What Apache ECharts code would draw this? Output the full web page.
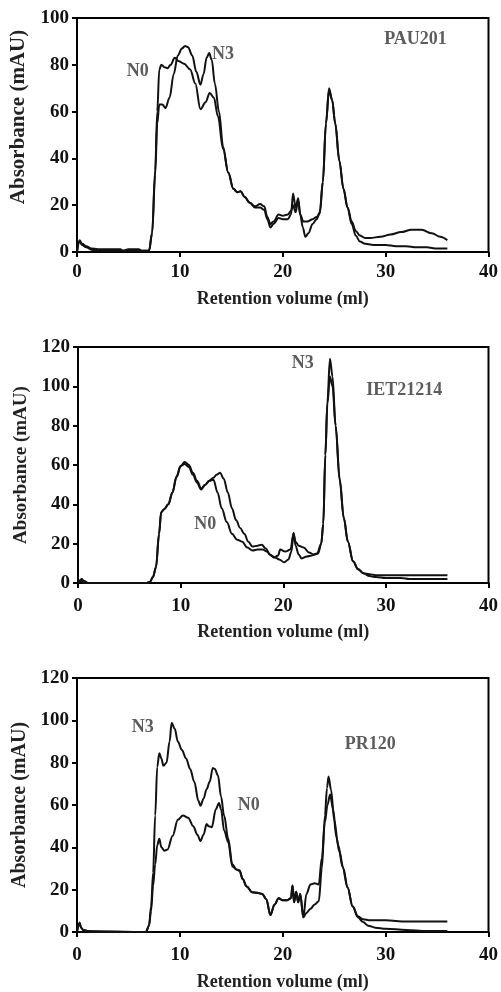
<!DOCTYPE html>
<html>
<head>
<meta charset="utf-8">
<script src="https://cdn.jsdelivr.net/npm/echarts@6/dist/echarts.min.js"></script>
<style>
html,body{margin:0;padding:0;background:#fff;}
#chart{width:501px;height:992px;}
</style>
</head>
<body>
<div id="chart"></div>
<script>
// ---------- Panel 1: PAU201 ----------
var pauN0X = [0,0.25,0.5,0.9,1.4,2.0,3.0,4.2,4.5,5.0,6.0,6.3,7.0,7.3,7.6,7.8,8.0,8.2,8.5,8.8,9.1,9.5,9.9,10.4,11.0,11.5,12.0,12.5,12.9,13.3,13.7,14.2,14.7,15.2,15.6,15.9,16.3,16.8,17.3,17.8,18.2,18.5,18.8,19.1,19.6,20.0,20.5,20.8,21.0,21.25,21.5,21.7,21.95,22.2,22.5,22.9,23.3,23.6,23.9,24.2,24.5,24.8,25.1,25.5,25.9,26.3,26.7,27.1,27.5,28.0,29,30,31,32,33,34,35,36];
var pauN0Y = [0,5,3.5,2.5,1.5,1.2,1.2,1.2,0.5,1.2,1.2,0.5,0.5,8,35,60,78,80,79,78.5,80,83,81.5,80.5,78,72,61,64,68,66,58,44,34,27,25.5,26,23.5,21,19,19,18,14,10.5,12,14.5,14,14,16,25,19,23,16,10.5,6.5,8,12,14,17,30,55,70,65,55,39,27,19,12,7,4.5,3.5,3,3,2.5,2.5,2,2,1.5,1.5];
var pauN3X = [0,0.25,0.5,0.9,1.4,2.0,4.0,5.0,6.0,7.0,7.3,7.6,7.8,8.0,8.3,8.6,9.0,9.4,9.8,10.2,10.5,10.8,11.2,11.6,12.0,12.3,12.6,12.85,13.1,13.4,13.8,14.2,14.7,15.2,15.6,15.9,16.3,16.8,17.3,17.8,18.2,18.5,18.8,19.1,19.6,20.0,20.5,20.8,21.0,21.25,21.5,21.7,22.0,22.4,22.9,23.3,23.6,23.9,24.2,24.5,24.8,25.1,25.5,25.9,26.3,26.7,27.1,27.5,28.0,28.5,29.5,30.5,31.5,32.5,33.5,34.5,35.3,36];
var pauN3Y = [0,4.5,3,2,1,0.5,0.5,0.5,0.5,0.5,8,33,55,63,63,61.5,66,76,84,87,88,87.5,84,77,71.5,76,83,85,82,72,60,45,34,27,25.5,26,23.5,21,19.5,20.5,19.5,15,12,13,16,15.5,16,17.5,20,17,22,16,13,13,14,15,16.5,30,55,69,65,55,39,27,19,13,9,7,6,6,6.5,7.5,8.5,9.5,9.5,8,6.5,5];

// ---------- Panel 2: IET21214 ----------
var ietN0X = [0,0.2,0.35,0.6,1.0,6.7,7.0,7.3,7.6,7.9,8.1,8.4,8.8,9.2,9.6,10.0,10.4,10.8,11.2,11.6,12.0,12.4,12.8,13.2,13.6,14.0,14.5,15.0,15.5,16.0,16.5,17.0,17.5,18.0,18.4,18.8,19.2,19.6,20.1,20.5,20.8,21.0,21.2,21.5,21.8,22.3,22.8,23.3,23.7,23.9,24.1,24.3,24.55,24.8,25.1,25.5,25.9,26.3,26.8,27.3,27.8,28.4,29.0,30,32,34,36];
var ietN0Y = [0,1.5,2,1,0,0,0.5,3,8,25,36,37.5,40,46,54,59.5,60.5,59,55,51,47.5,50,52,52.5,46,38,31,25,22,21,18,16.5,17,17,16,14,13,12,10.5,12,16,25.5,19,14.5,12.5,13.5,14,15,20,30,65,91,105,100,80,53,33,21,11,7,5,4.5,4,4,4,4,4];
var ietN3X = [0,0.3,0.6,6.7,7.0,7.3,7.6,7.9,8.1,8.4,8.8,9.2,9.6,10.0,10.4,10.8,11.2,11.6,12.0,12.4,12.8,13.2,13.5,13.85,14.2,14.6,15.0,15.4,15.8,16.2,16.6,17.0,17.5,17.9,18.3,18.7,19.1,19.5,19.7,20.2,20.7,21.0,21.2,21.5,22.0,22.5,23.0,23.4,23.7,23.9,24.1,24.3,24.55,24.8,25.1,25.5,25.9,26.3,26.8,27.3,27.8,28.4,29.0,30,31.5,32.3,33,34,36];
var ietN3Y = [0,1,0,0,0.5,3,8,25,36,37.5,40,46,54,59.5,61.5,60,56,52,48,50,52,53.5,55,56,53,46,38,32,28,25,21,18.5,19,19.5,17.5,14.5,13,14,17,16,17,25,21,19,18,15.5,14.5,15,20,30,65,92,114,105,80,52,33,21,11,7,5,3.5,3,2.5,2.5,2,2,2,2];

// ---------- Panel 3: PR120 ----------
var prN3X = [0,0.25,0.4,0.6,1.0,1.4,6.7,7.0,7.2,7.4,7.6,7.8,8.0,8.2,8.4,8.7,9.0,9.2,9.5,9.8,10.2,10.6,11.0,11.4,11.8,12.0,12.3,12.6,12.9,13.2,13.4,13.7,14.0,14.3,14.7,15.1,15.5,15.8,16.1,16.5,17.0,17.5,18.0,18.4,18.8,19.2,19.6,20.0,20.4,20.8,20.95,21.1,21.3,21.5,21.7,22.0,22.3,22.7,23.1,23.5,23.8,24.1,24.3,24.45,24.7,25.0,25.4,25.8,26.3,26.8,27.3,27.8,28.3,29,30,32,34,36];
var prN3Y = [0,4,2,1,0.5,0,0,3,12,28,55,78,84.5,82,78.5,80,90,98.8,96,90,86,82,77,71,62,59.6,63,67.5,71,77.5,77,74,64,55,44,32,29.5,29,25,21.5,18.8,18.5,18,15.5,8,13,16,15,15,16,22,14,19,14,18,7,9,11,13,14.5,30,55,68,73.5,67,53,41,31,21,12,7,4.7,3,2,1.5,1,0.5,0.5];
var prN0X = [0,0.25,0.4,0.6,1.0,6.7,7.0,7.2,7.4,7.6,7.8,8.0,8.2,8.5,8.8,9.3,9.8,10.3,10.8,11.3,11.7,12.0,12.3,12.6,12.8,13.1,13.5,13.8,14.0,14.3,14.7,15.1,15.5,15.8,16.1,16.5,17.0,17.5,18.0,18.4,18.8,19.2,19.6,20.0,20.4,20.8,20.95,21.1,21.3,21.5,21.7,22.0,22.3,22.7,23.1,23.5,23.8,24.1,24.35,24.6,24.9,25.2,25.5,25.9,26.3,26.8,27.3,27.8,28.5,30,32,34,36];
var prN0Y = [0,4.5,2,1,0.5,0,3,10,22,32,41,44,40,38.4,39,45.5,53,55,54,50,46,43,46,51,50,49.5,58,61,58,48,42.4,31,29.5,29,25,21.5,18.8,18.5,18,15.5,8,13,16,15,15,16,22,14,19,14,18,7,18,22.5,23,22.5,35,52,60,65,58,45,38,30,21,12,7.5,6,5.5,5.5,5,5,5];

// ---------- Axis ticks / texts ----------
var yMax = [100,120,120];
var xTitle = 'Retention volume (ml)';
var yTitle = 'Absorbance (mAU)';
var panelNames = ['PAU201','IET21214','PR120'];
var labelTexts = [['N0','N3','PAU201'],['N3','N0','IET21214'],['N3','N0','PR120']];
var labelX = [[5.9,14.2,32.9],[21.9,12.4,31.8],[6.4,16.7,28.5]];
var labelY = [[77,84.6,91],[111.7,30,98],[96.5,60,88.5]];

function pairs(xs, ys){ return xs.map(function(x,i){ return [x, ys[i]]; }); }

var FONT = "'Liberation Serif','Times New Roman',serif";
var grids = [
  {left:76, top:18, width:416, height:234},
  {left:78, top:347, width:411, height:236},
  {left:77, top:678, width:413, height:255}
];
var xLabelMargin = [11,14,14];
var xNameGap = [38,40,41];
var yNameGap = [48,45,44];
var yNameSize = [21,19,20];
var yNamePad = [[0,0,0,36],[0,0,0,0],[0,0,0,0]];

var option = {
  animation:false,
  backgroundColor:'#fff',
  grid: grids.map(function(g){ return Object.assign({show:true, borderColor:'#000', borderWidth:2, backgroundColor:'transparent'}, g); }),
  xAxis: grids.map(function(g,i){ return {
    type:'value', gridIndex:i, min:0, max:40, interval:10,
    name:xTitle, nameLocation:'middle', nameGap:xNameGap[i],
    nameTextStyle:{fontFamily:FONT, fontWeight:'bold', fontSize:18, color:'#222'},
    axisLine:{show:true, onZero:false, lineStyle:{color:'#000', width:2}},
    axisTick:{show:true, inside:false, length:5, lineStyle:{color:'#000', width:2}},
    axisLabel:{fontFamily:FONT, fontWeight:'bold', fontSize:19, color:'#111', margin:xLabelMargin[i]},
    splitLine:{show:false}
  }; }),
  yAxis: grids.map(function(g,i){ return {
    type:'value', gridIndex:i, min:0, max:yMax[i], interval:20,
    name:yTitle, nameLocation:'middle', nameGap:yNameGap[i],
    nameTextStyle:{fontFamily:FONT, fontWeight:'bold', fontSize:yNameSize[i], color:'#222', padding:yNamePad[i]},
    axisLine:{show:true, onZero:false, lineStyle:{color:'#000', width:2}},
    axisTick:{show:true, inside:false, length:5, lineStyle:{color:'#000', width:2}},
    axisLabel:{fontFamily:FONT, fontWeight:'bold', fontSize:19, color:'#111', margin:8},
    splitLine:{show:false}
  }; }),
  series: []
};

var curves = [
  [pairs(pauN0X,pauN0Y), pairs(pauN3X,pauN3Y)],
  [pairs(ietN0X,ietN0Y), pairs(ietN3X,ietN3Y)],
  [pairs(prN0X,prN0Y), pairs(prN3X,prN3Y)]
];
var names = ['N0','N3'];
curves.forEach(function(pair, gi){
  pair.forEach(function(d, k){
    option.series.push({
      type:'line', name:panelNames[gi]+' '+names[k], xAxisIndex:gi, yAxisIndex:gi,
      data:d, showSymbol:false, smooth:0.35, smoothMonotone:'x',
      lineStyle:{color:'#111', width:2}, z:3
    });
  });
  option.series.push({
    type:'scatter', xAxisIndex:gi, yAxisIndex:gi, symbolSize:0, silent:true,
    data: labelTexts[gi].map(function(t,j){ return {name:t, value:[labelX[gi][j], labelY[gi][j]]}; }),
    label:{show:true, position:'inside', formatter:function(p){ return p.name; },
      fontFamily:FONT, fontWeight:'bold', fontSize:18, color:'#333'}
  });
});

var chart = echarts.init(document.getElementById('chart'), null, {renderer:'canvas'});
chart.setOption(option);
</script>
</body>
</html>
